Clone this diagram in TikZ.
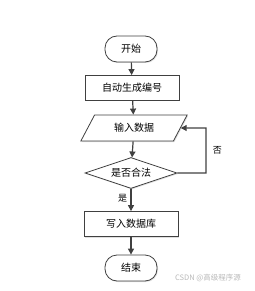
\documentclass[tikz,border=0pt]{standalone}
\usepackage{fontspec}
\usepackage{xcolor}
\definecolor{linegray}{rgb}{0.25,0.25,0.25}
\usepackage{tikz}
\usetikzlibrary{shapes,arrows.meta,calc,positioning,shadows}
\newfontfamily\cjk{Noto Sans CJK SC}

\begin{document}
\begin{tikzpicture}[x=1pt, y=-1pt,
  termbox/.style={rectangle, draw=linegray, line width=0.8pt, fill=white, rounded corners=12pt, minimum width=52pt, minimum height=26pt, font=\cjk\fontsize{10}{12}\selectfont, drop shadow={shadow xshift=1pt, shadow yshift=-1pt, opacity=0.25}},
  procbox/.style={rectangle, draw=linegray, line width=0.8pt, fill=white, minimum width=94pt, minimum height=25pt, font=\cjk\fontsize{10}{12}\selectfont, drop shadow={shadow xshift=1pt, shadow yshift=-1pt, opacity=0.25}},
  iobox/.style={trapezium, trapezium left angle=63, trapezium right angle=117, trapezium stretches=true, draw=linegray, line width=0.8pt, fill=white, minimum width=107pt, minimum height=26pt, font=\cjk\fontsize{10}{12}\selectfont, drop shadow={shadow xshift=1pt, shadow yshift=-1pt, opacity=0.25}},
  testbox/.style={diamond, aspect=3, draw=linegray, line width=0.8pt, fill=white, minimum width=92pt, minimum height=31pt, inner sep=0pt, font=\cjk\fontsize{10}{12}\selectfont, drop shadow={shadow xshift=1pt, shadow yshift=-1pt, opacity=0.25}},
  arrow/.style={-{Triangle[length=6pt,width=6pt]}, draw=linegray, line width=1.2pt}
]
\useasboundingbox (0,0) rectangle (254,291);

% Start
\node[termbox] (start) at (131, 49) {开始};

% Number
\node[procbox] (number) at (132, 88) {自动生成编号};

% Input
\node[iobox] (input) at (134, 128) {输入数据};

% Check
\node[testbox] (check) at (131, 173) {是否合法};

% Write
\node[procbox] (write) at (131, 224) {写入数据库};

% End
\node[termbox] (stop) at (131, 268) {结束};

% Connections
\coordinate (loop) at (206, 128);
\draw[arrow] (start) -- (number);
\draw[arrow] (number) -- (input);
\draw[arrow] (input) -- (check);
\draw[arrow] (check) -- node[left, font=\cjk\fontsize{9}{11}\selectfont, yshift=2pt] {是} (write);
\draw[arrow] (write) -- (stop);
\draw[arrow] (check.east) -| (loop) node[pos=0.75, right=3pt, font=\cjk\fontsize{9}{11}\selectfont] {否} -- (input.east);

% Watermark
\node[font=\cjk\fontsize{7.5}{9}\selectfont, color=gray!55] (mark) at (208, 278) {CSDN @高级程序源};

\end{tikzpicture}
\end{document}
